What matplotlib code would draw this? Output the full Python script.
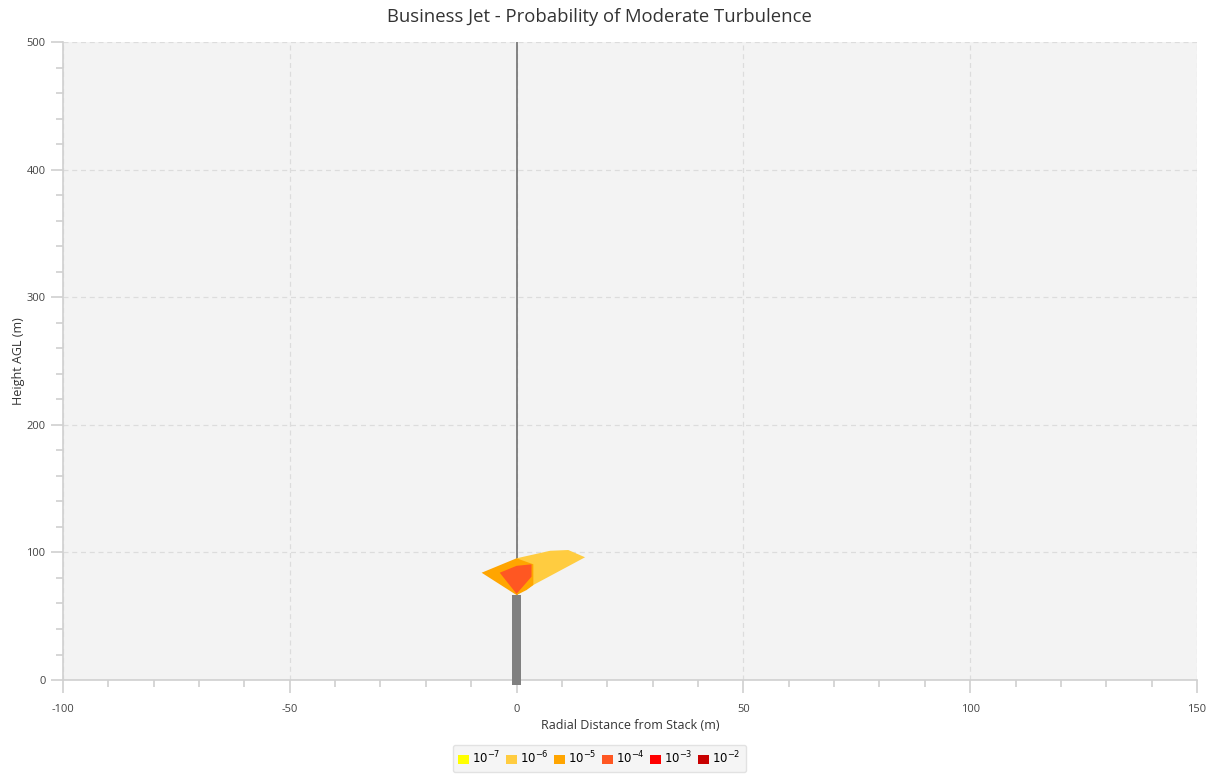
import matplotlib
matplotlib.use("Agg")
import matplotlib.pyplot as plt
from matplotlib.patches import Patch
from matplotlib.ticker import MultipleLocator

plt.rcParams['font.family'] = ['Open Sans', 'DejaVu Sans']
plt.rcParams['axes.unicode_minus'] = False

title = "Business Jet - Probability of Moderate Turbulence"
xlabel = "Radial Distance from Stack (m)"
ylabel = "Height AGL (m)"

levels = ["$10^{-7}$", "$10^{-6}$", "$10^{-5}$", "$10^{-4}$", "$10^{-3}$", "$10^{-2}$"]
level_colors = ["#FFFF00", "#FFCC40", "#FFA500", "#FF5722", "#FF0000", "#C80000"]

# contour polygons (x in m, height in m)
c6_x = [0.0, 7.4, 11.4, 15.1, 3.7, 0.0]
c6_y = [95.4, 101.3, 101.9, 96.2, 74.5, 66.6]
c5_x = [-7.7, 0.0, 3.7, 3.7, 2.2, 0.0]
c5_y = [84.1, 95.4, 90.7, 74.5, 70.5, 66.6]
c4_x = [-3.7, 0.0, 3.3, 3.3, 0.0]
c4_y = [84.1, 89.5, 90.7, 81.0, 67.5]

stack_height = 66.6
stack_width = 2.0
ymax = 500

fig = plt.figure(figsize=(12.06, 7.74), dpi=100)
ax = fig.add_axes([0.0522, 0.1214, 0.9403, 0.8243])
ax.set_facecolor("#F3F3F3")

ax.fill(c6_x, c6_y, color=level_colors[1], lw=0, zorder=3)
ax.fill(c5_x, c5_y, color=level_colors[2], lw=0, zorder=4)
ax.fill(c4_x, c4_y, color=level_colors[3], lw=0, zorder=5)

ax.bar([0], [stack_height + 3.5], bottom=-3.5, width=stack_width, color="#808080",
       zorder=6, clip_on=False)
ax.plot([0, 0], [stack_height, ymax], color="#707070", lw=1.2, zorder=2)

ax.set_xlim(-100, 150)
ax.set_ylim(0, 500)
ax.xaxis.set_major_locator(MultipleLocator(50))
ax.xaxis.set_minor_locator(MultipleLocator(10))
ax.yaxis.set_major_locator(MultipleLocator(100))
ax.yaxis.set_minor_locator(MultipleLocator(20))
ax.grid(True, which="major", color="#DCDCDC", ls=(0, (4, 3)), lw=0.9, zorder=1)
ax.set_axisbelow(True)

for s in ["top", "right"]:
    ax.spines[s].set_visible(False)
for s in ["left", "bottom"]:
    ax.spines[s].set_color("#D0D0D0")
    ax.spines[s].set_linewidth(1.2)

ax.tick_params(which="major", length=9, color="#D0D0D0", width=1.2, labelsize=8, labelcolor="#444444")
ax.tick_params(which="minor", length=5, color="#D0D0D0", width=1.2)
ax.tick_params(axis="x", pad=8)

fig.text(0.497, 0.978, title, fontsize=13.3, color="#333333", ha="center", va="center")
ax.set_xlabel(xlabel, fontsize=9, color="#333333", labelpad=3)
ax.set_ylabel(ylabel, fontsize=9, color="#333333", labelpad=1)

handles = [Patch(facecolor=c, edgecolor="none", label=l) for c, l in zip(level_colors, levels)]
leg = fig.legend(handles=handles, loc="lower center", bbox_to_anchor=(0.497, -0.005), ncol=6,
                 frameon=True, fontsize=8.5, handlelength=0.9, handleheight=0.9, handletextpad=0.3,
                 columnspacing=0.45, borderpad=0.45)
leg.get_frame().set_facecolor("#F3F3F3")
leg.get_frame().set_edgecolor("#DDDDDD")

fig.savefig("out.png", dpi=100)
